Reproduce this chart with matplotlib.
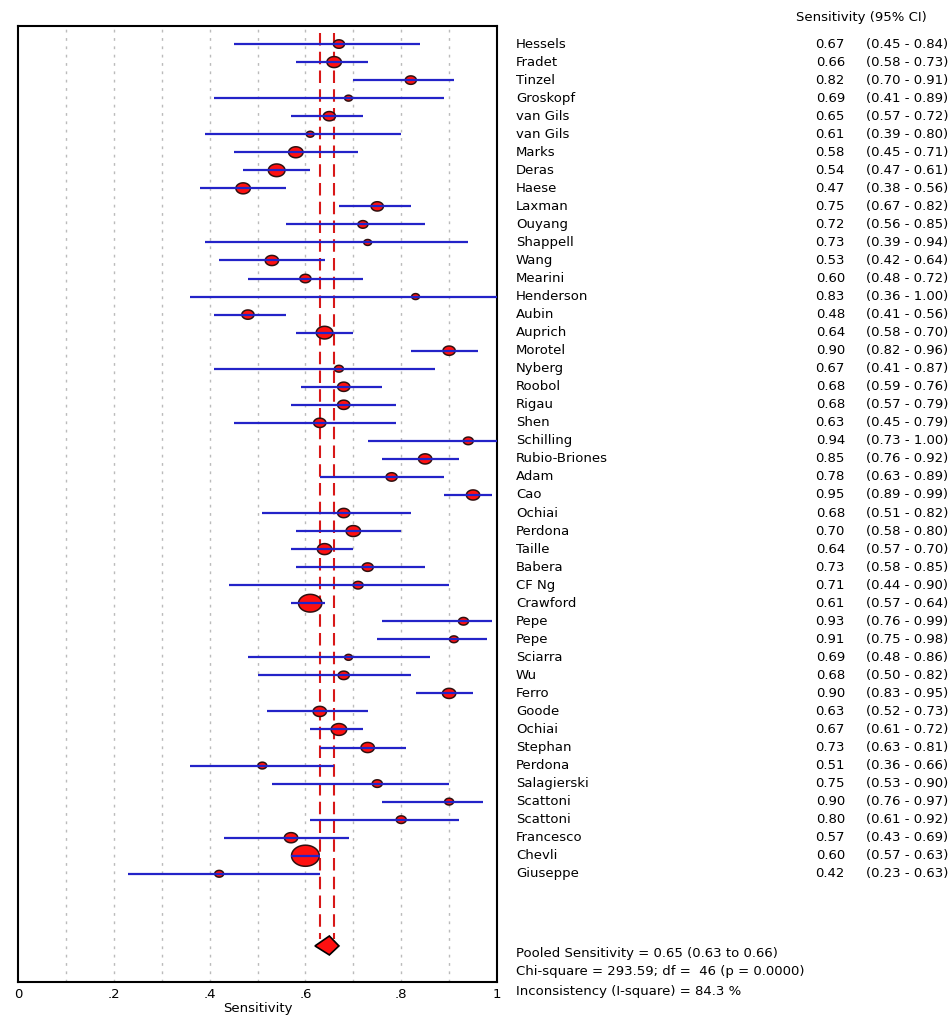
import numpy as np
import matplotlib
matplotlib.use('Agg')
import matplotlib.pyplot as plt
import matplotlib.transforms as mtransforms

# Study data
#-----------------------------------------------------------------------------#
studies = ['Hessels', 'Fradet', 'Tinzel', 'Groskopf', 'van Gils', 'van Gils',
           'Marks', 'Deras', 'Haese', 'Laxman', 'Ouyang', 'Shappell', 'Wang',
           'Mearini', 'Henderson', 'Aubin', 'Auprich', 'Morotel', 'Nyberg',
           'Roobol', 'Rigau', 'Shen', 'Schilling', 'Rubio-Briones', 'Adam',
           'Cao', 'Ochiai', 'Perdona', 'Taille', 'Babera', 'CF Ng', 'Crawford',
           'Pepe', 'Pepe', 'Sciarra', 'Wu', 'Ferro', 'Goode', 'Ochiai',
           'Stephan', 'Perdona', 'Salagierski', 'Scattoni', 'Scattoni',
           'Francesco', 'Chevli', 'Giuseppe']
sens = [0.67, 0.66, 0.82, 0.69, 0.65, 0.61, 0.58, 0.54, 0.47, 0.75, 0.72, 0.73,
        0.53, 0.60, 0.83, 0.48, 0.64, 0.90, 0.67, 0.68, 0.68, 0.63, 0.94, 0.85,
        0.78, 0.95, 0.68, 0.70, 0.64, 0.73, 0.71, 0.61, 0.93, 0.91, 0.69, 0.68,
        0.90, 0.63, 0.67, 0.73, 0.51, 0.75, 0.90, 0.80, 0.57, 0.60, 0.42]
ci_lo = [0.45, 0.58, 0.70, 0.41, 0.57, 0.39, 0.45, 0.47, 0.38, 0.67, 0.56, 0.39,
         0.42, 0.48, 0.36, 0.41, 0.58, 0.82, 0.41, 0.59, 0.57, 0.45, 0.73, 0.76,
         0.63, 0.89, 0.51, 0.58, 0.57, 0.58, 0.44, 0.57, 0.76, 0.75, 0.48, 0.50,
         0.83, 0.52, 0.61, 0.63, 0.36, 0.53, 0.76, 0.61, 0.43, 0.57, 0.23]
ci_hi = [0.84, 0.73, 0.91, 0.89, 0.72, 0.80, 0.71, 0.61, 0.56, 0.82, 0.85, 0.94,
         0.64, 0.72, 1.00, 0.56, 0.70, 0.96, 0.87, 0.76, 0.79, 0.79, 1.00, 0.92,
         0.89, 0.99, 0.82, 0.80, 0.70, 0.85, 0.90, 0.64, 0.99, 0.98, 0.86, 0.82,
         0.95, 0.73, 0.72, 0.81, 0.66, 0.90, 0.97, 0.92, 0.69, 0.63, 0.63]
# relative study weight (marker width)
weight = [10, 13, 10, 7, 11, 7, 13, 15, 13, 11, 9, 7, 12, 10, 7, 11, 15, 11, 8,
          11, 11, 11, 9, 12, 10, 12, 11, 13, 13, 10, 9, 21, 9, 8, 7, 10, 12, 12,
          14, 12, 8, 9, 8, 9, 12, 25, 8]

pooled     = 0.65
pooled_lo  = 0.63
pooled_hi  = 0.66
xticks     = [0, 0.2, 0.4, 0.6, 0.8, 1.0]
xticklabs  = ['0', '.2', '.4', '.6', '.8', '1']
footer     = ['Pooled Sensitivity = 0.65 (0.63 to 0.66)',
              'Chi-square = 293.59; df =  46 (p = 0.0000)',
              'Inconsistency (I-square) = 84.3 %']

# Figure
#-----------------------------------------------------------------------------#
plt.rcParams['font.family'] = ['DejaVu Sans']
fig = plt.figure(figsize=(9.51, 10.15), dpi=100)
ax  = fig.add_axes([18/951, 1-982/1015, 479/951, 956/1015])

n   = len(studies)
y   = np.arange(n)
y_pool = n + 3

# grid
for g in np.arange(1, 10) / 10:
    ax.axvline(g, color='#BBBBBB', linewidth=1, linestyle=(0, (2, 4)), zorder=0)

# pooled CI lines
for xv in [pooled_lo, pooled_hi]:
    ax.plot([xv, xv], [-0.6, y_pool - 0.4], color='#D81818', linewidth=1.5,
            linestyle=(0, (6, 3)), zorder=1)

# study markers (ellipse)
th    = np.linspace(0, 2*np.pi, 41)
verts = np.column_stack([np.cos(th), 0.76*np.sin(th)])
ax.scatter(sens, y, s=(np.array(weight)*0.8)**2, marker=verts,
           facecolor='#FF1010', edgecolor='#301010', linewidth=1.1, zorder=3)
ax.hlines(y, ci_lo, ci_hi, color='#2323C8', linewidth=1.6, zorder=4)

# pooled diamond
ax.fill([pooled_lo - 0.01, pooled, pooled_hi + 0.01, pooled],
        [y_pool, y_pool - 0.55, y_pool, y_pool + 0.5],
        facecolor='#FF1010', edgecolor='black', linewidth=1.2, zorder=3)

ax.set_xlim(0, 1)
ax.set_ylim(n + 5, -1)
ax.set_yticks([])
ax.set_xticks(xticks, labels=xticklabs)
ax.tick_params(axis='x', length=0, labelsize=9.5, pad=4)
ax.set_xlabel('Sensitivity', fontsize=9.5, labelpad=1)
for sp in ax.spines.values():
    sp.set_linewidth(1.5)

# right-hand text
tr = mtransforms.blended_transform_factory(fig.transFigure, ax.transData)
for i in range(n):
    ax.text(516/951, y[i], studies[i], transform=tr, fontsize=9.5,
            va='center', ha='left', clip_on=False)
    ax.text(845/951, y[i], '{:.2f}'.format(sens[i]), transform=tr,
            fontsize=9.5, va='center', ha='right', clip_on=False)
    ax.text(948/951, y[i], '({:.2f} - {:.2f})'.format(ci_lo[i], ci_hi[i]),
            transform=tr, fontsize=9.5, va='center', ha='right', clip_on=False)
fig.text(861/951, 1-18/1015, 'Sensitivity (95% CI)', fontsize=9.5,
         ha='center', va='center')
for k, line in enumerate(footer):
    fig.text(516/951, 1-(953 + 19*k)/1015, line, fontsize=9.5,
             ha='left', va='center')

fig.savefig('out.png', dpi=100, facecolor='white')
